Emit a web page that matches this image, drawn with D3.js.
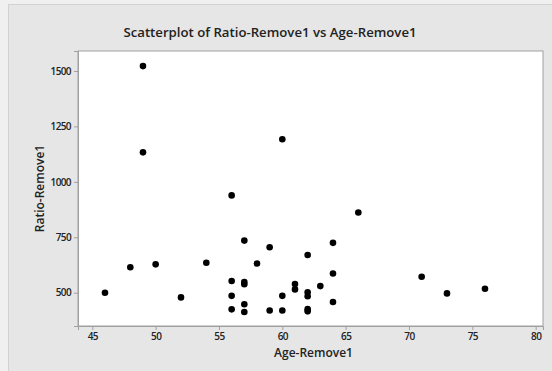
<!DOCTYPE html>
<html><head><meta charset="utf-8">
<script src="https://cdn.jsdelivr.net/npm/d3@7"></script>
<style>html,body{margin:0;padding:0;background:#f0f0f0;}svg{display:block;}</style>
</head><body>
<script>
const age = [49,49,60,56,66,57,64,59,62,48,50,54,58,64,71,56,57,57,61,61,63,76,46,73,62,62,52,56,60,64,57,56,57,59,60,62,62];
const ratio = [1522,1133,1192,939,862,735,725,705,670,615,628,635,632,587,572,553,548,538,539,515,530,518,500,497,502,484,479,486,486,458,448,425,413,420,420,426,416];
const xTicks = [45,50,55,60,65,70,75,80];
const yTicks = [500,750,1000,1250,1500];
const title = "Scatterplot of Ratio-Remove1 vs Age-Remove1";
const xLabel = "Age-Remove1";
const yLabel = "Ratio-Remove1";

const W = 552, H = 371;
const L = 78, R = 543, T = 51, B = 326;
const font = "'Open Sans', sans-serif";

const svg = d3.select("body").append("svg").attr("width", W).attr("height", H);
svg.append("rect").attr("x", 8.5).attr("y", 4.5).attr("width", W).attr("height", H)
  .attr("fill", "#e6e6e6").attr("stroke", "#d2d2d2");

const x = d3.scaleLinear().domain([43.87, 80.58]).range([L, R]);
const y = d3.scaleLinear().domain([350, 1590]).range([B, T]);

svg.append("rect").attr("x", L).attr("y", T).attr("width", R - L).attr("height", B - T)
  .attr("fill", "#fff").attr("stroke", "#a0a0a0");

const xa = svg.append("g").attr("transform", `translate(0,${B})`)
  .call(d3.axisBottom(x).tickValues(xTicks).tickFormat(d3.format("d")).tickSize(4).tickPadding(3));
const ya = svg.append("g").attr("transform", `translate(${L},0)`)
  .call(d3.axisLeft(y).tickValues(yTicks).tickFormat(d3.format("d")).tickSize(4).tickPadding(3));
[xa, ya].forEach(g => {
  g.select(".domain").attr("stroke", "#a0a0a0");
  g.selectAll(".tick line").attr("stroke", "#a0a0a0");
  g.selectAll(".tick text").attr("fill", "#222").style("font-family", font)
    .style("font-size", "10px").style("font-weight", "600").style("letter-spacing", "-0.6px");
});

svg.append("g").selectAll("circle").data(age.map((a, i) => [a, ratio[i]])).join("circle")
  .attr("cx", d => x(d[0])).attr("cy", d => y(d[1])).attr("r", 3.3).attr("fill", "#000");

svg.append("text").attr("x", 270).attr("y", 37).attr("text-anchor", "middle")
  .style("font-family", font).style("font-size", "13.2px").style("font-weight", "600")
  .attr("fill", "#222").text(title);
svg.append("text").attr("x", (L + R) / 2 + 3).attr("y", 357).attr("text-anchor", "middle")
  .style("font-family", font).style("font-size", "12px").style("font-weight", "600")
  .attr("fill", "#222").text(xLabel);
svg.append("text").attr("transform", `translate(44,${(T + B) / 2}) rotate(-90)`).attr("text-anchor", "middle")
  .style("font-family", font).style("font-size", "12px").style("font-weight", "600")
  .attr("fill", "#222").text(yLabel);
</script>
</body></html>
